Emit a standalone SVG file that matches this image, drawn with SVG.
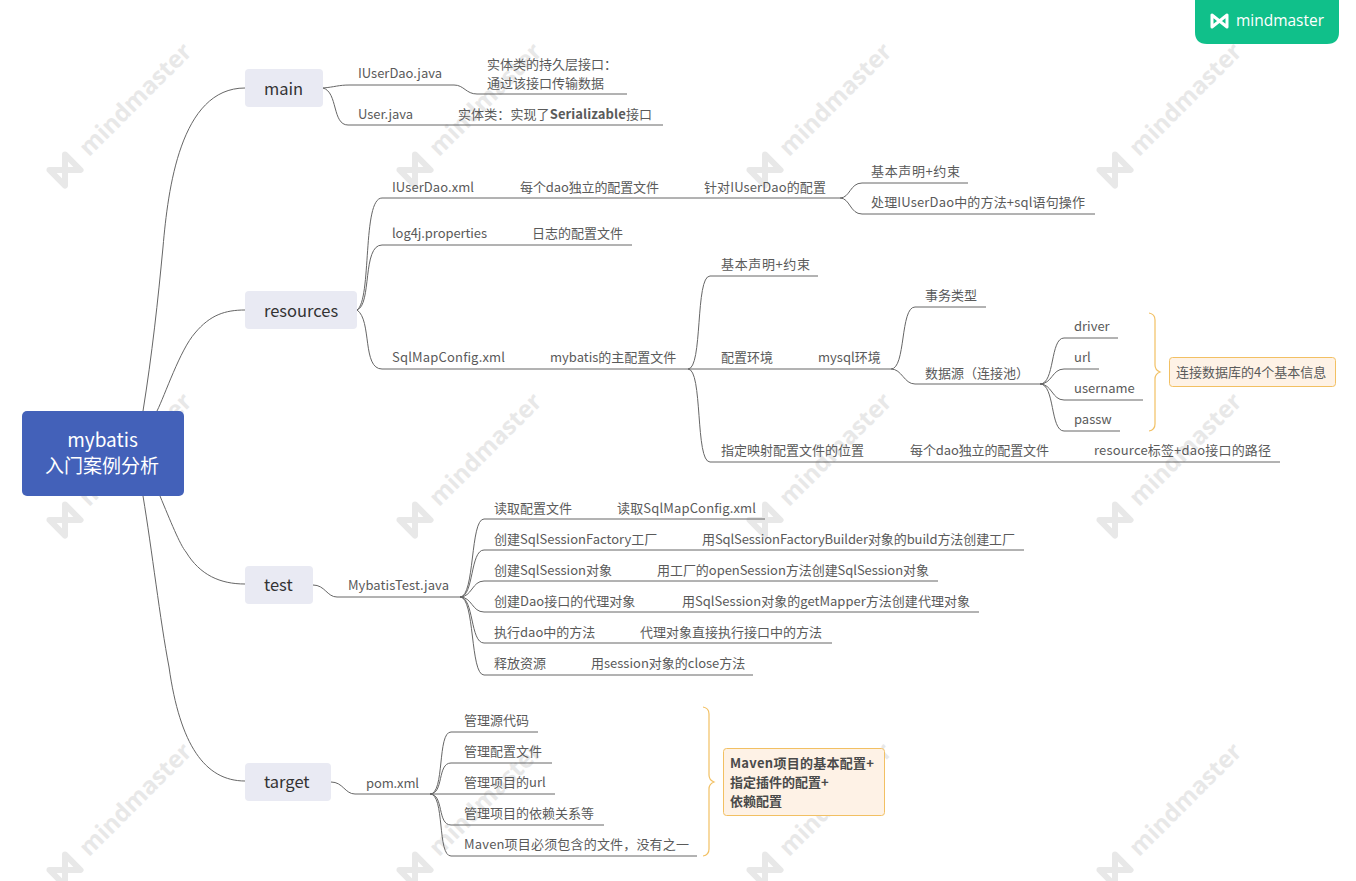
<svg xmlns="http://www.w3.org/2000/svg" xmlns:xlink="http://www.w3.org/1999/xlink" width="1356" height="881" viewBox="0 0 1356 881">
<style>
text{font-family:"Noto Sans CJK SC","Noto Sans",sans-serif;font-size:13px;fill:#5a5a5a}
.topic{fill:#e9eaf3}
.topic-t{font-size:16.5px;fill:#333}
.root-t{font-size:19px;fill:#fff;text-anchor:middle}
.note{fill:#fef2e6;stroke:#f2c063;stroke-width:1}
.nb{font-weight:700;fill:#4a4a4a}
.c{fill:none;stroke:#666;stroke-width:1}
.brace{fill:none;stroke:#f2c063;stroke-width:1.2}
.wm-t{font-family:"Open Sans","Noto Sans",sans-serif;font-size:24px;font-weight:700;fill:#e8e8e8}
.wm-l{fill:none;stroke:#e8e8e8;stroke-width:6;stroke-linejoin:round}
</style>
<defs>
<g id="wm">
<g transform="translate(65 170) rotate(-45)">
<path class="wm-l" d="M-11 -11V11L11 -11V11Z"/>
<text class="wm-t" x="26" y="8">mindmaster</text>
</g>
</g>
</defs>
<rect width="1356" height="881" fill="#fff"/>
<g id="watermarks">
<use xlink:href="#wm"/><use xlink:href="#wm" x="350"/><use xlink:href="#wm" x="700"/><use xlink:href="#wm" x="1050"/>
<use xlink:href="#wm" y="350"/><use xlink:href="#wm" x="350" y="350"/><use xlink:href="#wm" x="700" y="350"/><use xlink:href="#wm" x="1050" y="350"/>
<use xlink:href="#wm" y="700"/><use xlink:href="#wm" x="350" y="700"/><use xlink:href="#wm" x="700" y="700"/><use xlink:href="#wm" x="1050" y="700"/>
</g>
<g id="badge">
<path d="M1195 0H1339V32Q1339 44 1327 44H1207Q1195 44 1195 32Z" fill="#10c08a"/>
<path d="M1212 15V27L1227 15V27Z" fill="none" stroke="#fff" stroke-width="3" stroke-linejoin="round"/>
<text x="1236" y="26" textLength="88" lengthAdjust="spacingAndGlyphs" style="font-family:'Open Sans',sans-serif;font-size:17px;fill:#fff">mindmaster</text>
</g>
<g id="connectors">
<path class="c" d="M143 411C152 355 158 300 163 247C168 190 180 88 245 88"/>
<path class="c" d="M157 411C165 395 180 350 195 333C210 315 225 310 245 310"/>
<path class="c" d="M160 496C170 520 180 545 186 552C200 575 220 584 245 584"/>
<path class="c" d="M143 496C152 550 160 620 169 667C180 745 205 781 245 781"/>
<path class="c" d="M323 88C335 87 338 85 350 85H454C464 85 466 94 477 94H627"/>
<path class="c" d="M323 88C338 92 332 125 348 125H663"/>
<path class="c" d="M357 310C372 300 362 198 382 198H840C850 198 850 183 862 183H968M840 198C850 198 850 214 862 214H1095"/>
<path class="c" d="M357 310C372 305 362 245 382 245H632"/>
<path class="c" d="M357 310C372 320 362 369 382 369H891C906 369 900 307 915 307H986M891 369C902 369 904 384 915 384H1040C1055 384 1050 338 1064 338H1118M1040 384C1052 384 1052 369 1064 369H1099M1040 384C1052 384 1052 400 1064 400H1143M1040 384C1055 384 1050 431 1064 431H1120"/>
<path class="c" d="M688 369C703 369 695 276 710 276H818M688 369C703 369 695 462 710 462H1280"/>
<path class="c" d="M313 585C325 585 327 597 337 597H460C475 597 470 519 484 519H765M460 597C474 597 470 550 484 550H1024M460 597C472 597 472 581 484 581H938M460 597C472 597 472 612 484 612H979M460 597C474 597 470 643 484 643H832M460 597C475 597 470 675 484 675H753"/>
<path class="c" d="M331 782C343 782 345 794 355 794H430C445 794 437 732 451 732H538M430 794C444 794 437 763 451 763H552M430 794H555M430 794C444 794 437 825 451 825H604M430 794C445 794 437 856 451 856H697"/>
</g>
<g id="root">
<rect x="22" y="411" width="162" height="85" rx="5" fill="#4361b9"/>
<text class="root-t" x="102.500" y="447">mybatis</text>
<text class="root-t" x="102" y="473">入门案例分析</text>
</g>
<g id="n-main"><rect class="topic" x="245" y="69" width="78" height="38" rx="4"/><text class="topic-t" x="264" y="95">main</text></g>
<g id="n-resources"><rect class="topic" x="245" y="291" width="112" height="38" rx="4"/><text class="topic-t" x="264" y="317">resources</text></g>
<g id="n-test"><rect class="topic" x="245" y="566" width="68" height="38" rx="4"/><text class="topic-t" x="264" y="591">test</text></g>
<g id="n-target"><rect class="topic" x="245" y="763" width="86" height="38" rx="4"/><text class="topic-t" x="264" y="788">target</text></g>
<g id="n-main-children">
<text x="358" y="78" textLength="84">IUserDao.java</text>
<text x="487" y="69">实体类的持久层接口：</text>
<text x="487" y="88">通过该接口传输数据</text>
<text x="358" y="119" textLength="55">User.java</text>
<text x="458" y="119" textLength="194">实体类：实现了<tspan font-weight="700">Serializable</tspan>接口</text>
</g>
<g id="n-resources-children">
<text x="392" y="192" textLength="82">IUserDao.xml</text>
<text x="520" y="192" textLength="139">每个dao独立的配置文件</text>
<text x="704" y="192" textLength="122">针对IUserDao的配置</text>
<text x="871" y="176" textLength="89">基本声明+约束</text>
<text x="871" y="207" textLength="214">处理IUserDao中的方法+sql语句操作</text>
<text x="392" y="238" textLength="95">log4j.properties</text>
<text x="532" y="238">日志的配置文件</text>
<text x="392" y="362" textLength="113">SqlMapConfig.xml</text>
<text x="550" y="362">mybatis的主配置文件</text>
<text x="721" y="269" textLength="89">基本声明+约束</text>
<text x="721" y="362">配置环境</text>
<text x="818" y="362">mysql环境</text>
<text x="925" y="300">事务类型</text>
<text x="925" y="378">数据源（连接池）</text>
<text x="1074" y="331">driver</text>
<text x="1074" y="362">url</text>
<text x="1074" y="393">username</text>
<text x="1074" y="424">passw</text>
<text x="721" y="455">指定映射配置文件的位置</text>
<text x="910" y="455" textLength="139">每个dao独立的配置文件</text>
<text x="1094" y="455" textLength="177">resource标签+dao接口的路径</text>
</g>
<g id="n-test-children">
<text x="348" y="590" textLength="101">MybatisTest.java</text>
<text x="494" y="513">读取配置文件</text>
<text x="617" y="513" textLength="139">读取SqlMapConfig.xml</text>
<text x="494" y="544">创建SqlSessionFactory工厂</text>
<text x="702" y="544" textLength="313">用SqlSessionFactoryBuilder对象的build方法创建工厂</text>
<text x="494" y="575">创建SqlSession对象</text>
<text x="657" y="575" textLength="272">用工厂的openSession方法创建SqlSession对象</text>
<text x="494" y="606">创建Dao接口的代理对象</text>
<text x="682" y="606" textLength="288">用SqlSession对象的getMapper方法创建代理对象</text>
<text x="494" y="637">执行dao中的方法</text>
<text x="640" y="637">代理对象直接执行接口中的方法</text>
<text x="494" y="668">释放资源</text>
<text x="591" y="668">用session对象的close方法</text>
</g>
<g id="n-target-children">
<text x="366" y="788" textLength="53">pom.xml</text>
<text x="464" y="725">管理源代码</text>
<text x="464" y="756">管理配置文件</text>
<text x="464" y="787">管理项目的url</text>
<text x="464" y="818">管理项目的依赖关系等</text>
<text x="464" y="849" textLength="225">Maven项目必须包含的文件，没有之一</text>
</g>
<g id="note-db">
<path class="brace" d="M1149 313Q1155 314 1155 320V365Q1155 370 1160 372Q1155 374 1155 379V424Q1155 430 1149 431"/>
<rect class="note" x="1169.500" y="357.500" width="166" height="29" rx="3"/>
<text x="1176" y="377">连接数据库的4个基本信息</text>
</g>
<g id="note-maven">
<path class="brace" d="M703 707Q709 708 709 714V775Q709 780 714 782Q709 784 709 789V849Q709 855 703 856"/>
<rect class="note" x="723.500" y="748.500" width="161" height="67" rx="3"/>
<text class="nb" x="730" y="768" textLength="144">Maven项目的基本配置+</text>
<text class="nb" x="730" y="787">指定插件的配置+</text>
<text class="nb" x="730" y="806">依赖配置</text>
</g>
</svg>
